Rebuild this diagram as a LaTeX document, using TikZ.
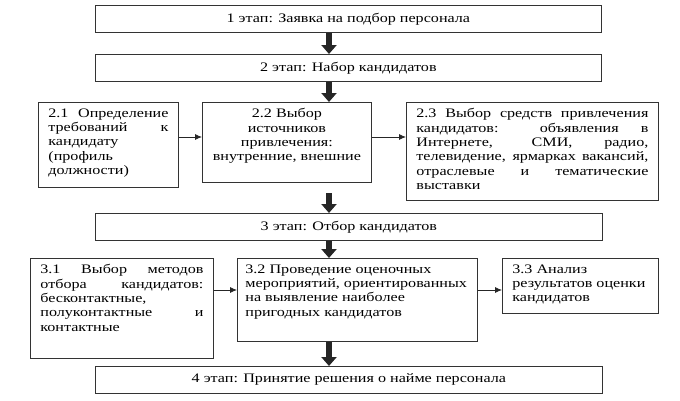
\documentclass[tikz,border=0pt]{standalone}
\usepackage{fontspec}
\setmainfont{Liberation Serif}[FakeStretch=1.24]
\usetikzlibrary{arrows.meta}
\hbadness=10000
\vbadness=10000
\begin{document}
\begin{tikzpicture}[x=1pt,y=-1pt,
  stage/.style={draw=black!80, line width=0.8pt, text=black, inner sep=0pt,
    anchor=north west, font=\fontsize{13}{14.4}\selectfont},
  substage/.style={stage, inner xsep=10pt, inner ysep=6pt},
  bigarrow/.style={line width=6pt, black!85, -{Triangle[width=15pt,length=9pt]}},
  smallarrow/.style={line width=0.8pt, black!85, -{Latex[length=7pt,width=6pt]}}]
\useasboundingbox (0,0) rectangle (680,400);

% main stages
\node[stage, minimum width=506pt, minimum height=27pt] (b1) at (95,5) {1 этап: Заявка на подбор персонала};
\node[stage, minimum width=506pt, minimum height=27pt] (b2) at (95,54) {2 этап: Набор кандидатов};
\node[stage, minimum width=507pt, minimum height=27pt] (b3) at (95,213) {3 этап: Отбор кандидатов};
\node[stage, minimum width=507pt, minimum height=27pt] (b4) at (95,366) {4 этап: Принятие решения о найме персонала};

% stage 2 steps
\node[substage] (b21) at (38,102) {\parbox[t][73pt][t]{120pt}{2.1 Определение\linebreak
  требований к\linebreak кандидату\linebreak (профиль\linebreak должности)}};
\node[substage, inner xsep=6pt] (b22) at (202,102) {\parbox[t][68pt][t]{157pt}{\centering 2.2 Выбор\\
  источников\\ привлечения:\\ внутренние, внешние}};
\node[substage] (b23) at (406,102) {\parbox[t][86pt][t]{232pt}{2.3 Выбор средств привлечения\linebreak
  кандидатов: объявления в\linebreak Интернете, СМИ, радио,\linebreak
  телевидение, ярмарках вакансий,\linebreak отраслевые и тематические\linebreak выставки}};

% stage 3 steps
\node[substage] (b31) at (30,258) {\parbox[t][88pt][t]{163pt}{3.1 Выбор методов\linebreak
  отбора кандидатов:\linebreak бесконтактные,\linebreak полуконтактные и\linebreak контактные}};
\node[substage, inner xsep=8pt] (b32) at (237,258) {\parbox[t][71pt][t]{224pt}{\raggedright 3.2 Проведение оценочных\\
  мероприятий,~ориентированных\\ на выявление наиболее\\ пригодных кандидатов}};
\node[substage] (b33) at (502,258) {\parbox[t][43pt][t]{136pt}{\raggedright 3.3 Анализ\\
  результатов оценки\\ кандидатов}};

% arrows
\coordinate (axis) at (329,0);
\coordinate (gap) at (329,193);
\coordinate (row2) at (0,137);
\coordinate (row3) at (0,290);
\draw[bigarrow] (b1.south -| axis) -- (b2.north -| axis);
\draw[bigarrow] (b2.south -| axis) -- (b22.north -| axis);
\draw[bigarrow] (gap) -- (b3.north -| axis);
\draw[bigarrow] (b3.south -| axis) -- (b32.north -| axis);
\draw[bigarrow] (b32.south -| axis) -- (b4.north -| axis);
\draw[smallarrow] (b21.east |- row2) -- (b22.west |- row2);
\draw[smallarrow] (b22.east |- row2) -- (b23.west |- row2);
\draw[smallarrow] (b31.east |- row3) -- (b32.west |- row3);
\draw[smallarrow] (b32.east |- row3) -- (b33.west |- row3);
\end{tikzpicture}
\end{document}
